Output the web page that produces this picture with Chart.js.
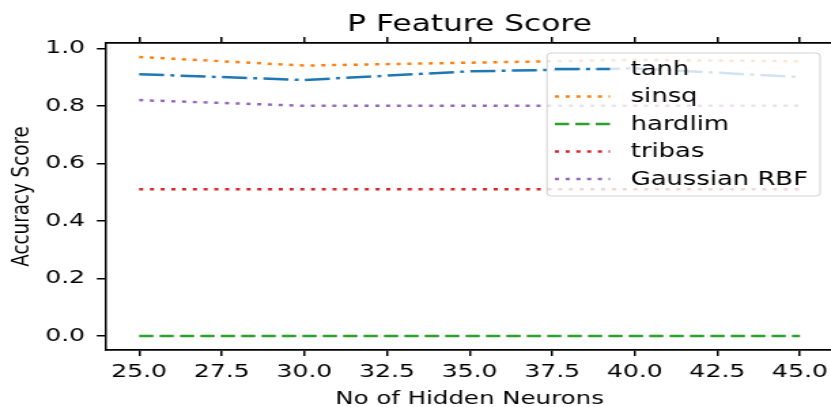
<!DOCTYPE html>
<html>
<head>
<meta charset="utf-8">
<script src="https://cdn.jsdelivr.net/npm/chart.js@4.4.0/dist/chart.umd.min.js"></script>
<style>
  html, body { margin: 0; padding: 0; background: #fff; overflow: hidden; width: 831px; height: 407px; }
  #wrap { width: 615px; height: 407px; transform: scaleX(1.36); transform-origin: 0 0; }
  canvas { display: block; }
</style>
</head>
<body>
<div id="wrap"><canvas id="c" width="615" height="407"></canvas></div>
<script>
// ---- data ----
const neurons = [25, 30, 35, 40, 45];
const tanhScores = [0.91, 0.89, 0.92, 0.93, 0.90];
const sinsqScores = [0.97, 0.94, 0.95, 0.96, 0.955];
const hardlimScores = [0.0, 0.0, 0.0, 0.0, 0.0];
const tribasScores = [0.51, 0.51, 0.51, 0.51, 0.51];
const gaussianScores = [0.82, 0.80, 0.80, 0.80, 0.80];
const seriesLabels = ['tanh', 'sinsq', 'hardlim', 'tribas', 'Gaussian RBF'];
const xTicks = [25, 27.5, 30, 32.5, 35, 37.5, 40, 42.5, 45];
const yTicks = [0.0, 0.2, 0.4, 0.6, 0.8, 1.0];
const titleText = 'P Feature Score';
const xTitle = 'No of Hidden Neurons';
const yTitle = 'Accuracy Score';

const FONT = '"DejaVu Sans", "Liberation Sans", sans-serif';
const pts = arr => neurons.map((n, i) => ({ x: n, y: arr[i] }));

const styles = [
  { color: '#1f77b4', dash: [18.4, 4.6, 2.9, 4.6] },
  { color: '#ff7f0e', dash: [3, 4.9] },
  { color: '#2ca02c', dash: [10.5, 4.5] },
  { color: '#d62728', dash: [3, 4.9] },
  { color: '#9467bd', dash: [3, 4.9] }
];
const allSeries = [tanhScores, sinsqScores, hardlimScores, tribasScores, gaussianScores];

const datasets = allSeries.map((s, i) => ({
  label: seriesLabels[i],
  data: pts(s),
  borderColor: styles[i].color,
  backgroundColor: styles[i].color,
  borderDash: styles[i].dash,
  borderWidth: 2.5,
  pointRadius: 0,
  tension: 0,
  fill: false
}));

const legendPlugin = {
  id: 'mplLegend',
  afterDatasetsDraw(chart) {
    const ctx = chart.ctx;
    const bx = 402.2, by = 53, bw = 200.8, bh = 143, r = 3;
    ctx.save();
    ctx.beginPath();
    if (ctx.roundRect) ctx.roundRect(bx, by, bw, bh, r); else ctx.rect(bx, by, bw, bh);
    ctx.fillStyle = 'rgba(255,255,255,0.8)';
    ctx.fill();
    ctx.strokeStyle = 'rgba(204,204,204,0.9)';
    ctx.lineWidth = 1;
    ctx.stroke();
    chart.data.datasets.forEach((ds, i) => {
      const y = 69 + i * 27.5;
      ctx.beginPath();
      ctx.setLineDash(ds.borderDash);
      ctx.strokeStyle = ds.borderColor;
      ctx.lineWidth = ds.borderWidth;
      ctx.moveTo(408, y);
      ctx.lineTo(448.5, y);
      ctx.stroke();
      ctx.setLineDash([]);
      ctx.fillStyle = '#000';
      ctx.font = '19px ' + FONT;
      ctx.textBaseline = 'middle';
      ctx.textAlign = 'left';
      ctx.fillText(ds.label, 463.7, y + 1);
    });
    ctx.restore();
  }
};

const setTicks = list => scale => { scale.ticks = list.map(v => ({ value: v })); };

new Chart(document.getElementById('c'), {
  type: 'line',
  data: { datasets },
  plugins: [legendPlugin],
  options: {
    responsive: false,
    animation: false,
    devicePixelRatio: 1,
    layout: { padding: { left: 0, right: 2.5, top: 0, bottom: 0 } },
    plugins: {
      legend: { display: false },
      tooltip: { enabled: false },
      title: {
        display: true,
        text: titleText,
        fullSize: false,
        color: '#000',
        font: { family: FONT, size: 23, weight: 'normal', lineHeight: 1 },
        padding: { top: 14, bottom: 0 }
      }
    },
    scales: {
      x: {
        type: 'linear',
        position: 'bottom',
        min: 24, max: 46,
        afterBuildTicks: setTicks(xTicks),
        afterFit: s => { s.height = 57; },
        grid: { display: true, drawOnChartArea: false, drawTicks: true, tickLength: 6, color: '#000', lineWidth: 1.5 },
        border: { display: true, color: '#000', width: 1.8 },
        ticks: {
          color: '#000', padding: 5, maxRotation: 0, autoSkip: false,
          font: { family: FONT, size: 18.5, lineHeight: 1.2 },
          callback: v => Number(v).toFixed(1)
        },
        title: {
          display: true, text: xTitle, color: '#000',
          font: { family: FONT, size: 18, lineHeight: 0.8 },
          padding: { top: 0, bottom: 0.5 }
        }
      },
      x2: {
        type: 'linear',
        position: 'top',
        min: 24, max: 46,
        afterBuildTicks: setTicks(xTicks),
        afterFit: s => { s.height = 6; },
        grid: { display: true, drawOnChartArea: false, drawTicks: true, tickLength: 6, color: '#000', lineWidth: 1.5 },
        border: { display: true, color: '#000', width: 1.8 },
        ticks: { display: false }
      },
      y: {
        type: 'linear',
        position: 'left',
        min: -0.0485, max: 1.0185,
        afterBuildTicks: setTicks(yTicks),
        afterFit: s => { s.width = 78; },
        grid: { display: true, drawOnChartArea: false, drawTicks: true, tickLength: 6.8, color: '#000', lineWidth: 1.5 },
        border: { display: true, color: '#000', width: 1.5 },
        ticks: {
          color: '#000', padding: 8.6,
          font: { family: FONT, size: 18.5, lineHeight: 1.2 },
          callback: v => Number(v).toFixed(1)
        },
        title: {
          display: true, text: yTitle, color: '#000',
          font: { family: FONT, size: 18.3, lineHeight: 1.2 },
          padding: { top: 5.6, bottom: 0 }
        }
      }
    }
  }
});
</script>
</body>
</html>
